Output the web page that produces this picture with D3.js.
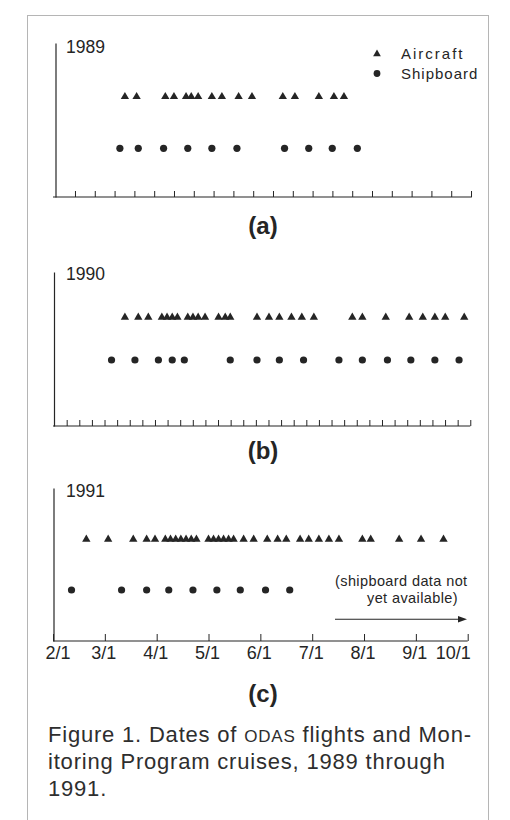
<!DOCTYPE html>
<html><head><meta charset="utf-8">
<script src="https://cdn.jsdelivr.net/npm/d3@7"></script>
<style>body{margin:0;background:#fff} svg{display:block}</style>
</head><body><svg id="c" width="510" height="820"></svg>
<script>
// ---------------- data ----------------
const years = ["1989", "1990", "1991"];
const panelLabels = ["(a)", "(b)", "(c)"];
const monthLabels = ["2/1", "3/1", "4/1", "5/1", "6/1", "7/1", "8/1", "9/1", "10/1"];
const legendLabels = ["Aircraft", "Shipboard"];

const aircraft1989 = ["3/13","3/20","4/6","4/11","4/18","4/21","4/25","5/3","5/9","5/19","5/27","6/14","6/21","7/5","7/14","7/20"];
const shipboard1989 = ["3/10","3/21","4/5","4/19","5/3","5/18","6/15","6/29","7/13","7/28"];

const aircraft1990 = ["3/13","3/21","3/27","4/4","4/7","4/10","4/13","4/19","4/22","4/25","4/29","5/7","5/11","5/14","5/30","6/6","6/12","6/19","6/25","7/2","7/25","7/31","8/14","8/28","9/5","9/12","9/18","9/29"];
const shipboard1990 = ["3/5","3/19","4/2","4/10","4/17","5/14","5/30","6/12","6/26","7/17","7/31","8/15","8/29","9/12","9/26"];

const aircraft1991 = ["2/19","3/3","3/18","3/26","3/31","4/6","4/9","4/12","4/15","4/18","4/21","4/24","5/1","5/4","5/7","5/10","5/13","5/16","5/22","5/28","6/5","6/11","6/16","6/24","6/29","7/5","7/11","7/17","7/31","8/5","8/22","9/4","9/17"];
const shipboard1991 = ["2/11","3/11","3/26","4/8","4/22","5/6","5/20","6/4","6/18"];

const noteLines = ["(shipboard data not", "yet available)"];
const captionLine1 = ["Figure 1. Dates of ", "ODAS", " flights and Mon-"];
const captionLines = ["itoring Program cruises, 1989 through", "1991."];

// ---------------- drawing ----------------
const INK = "#252525";
const FONT = "'Liberation Sans', Arial, Helvetica, sans-serif";
const svg = d3.select("#c");

// frame
svg.append("rect").attr("x", 27.5).attr("y", 15.5).attr("width", 461).attr("height", 900)
  .attr("fill", "none").attr("stroke", "#b5b5b5").attr("stroke-width", 1);

function toMonth(s, year) {
  const [m, d] = s.split("/").map(Number);
  const dim = new Date(+year, m, 0).getDate();
  return m + (d - 1) / dim;
}

const x = d3.scaleLinear().domain([2, 10]).range([53, 467.7]);

const panels = [
  { year: years[0], air: aircraft1989, ship: shipboard1989, top: 43, base: 197, yAxisX: 55.5,
    triY: 96.7, cirY: 148.3, yearY: 53, labY: 234, axisEnd: 10.08,
    ticks: d3.range(21).map(i => 2.424 + i * 0.382), tickLen: 6 },
  { year: years[1], air: aircraft1990, ship: shipboard1990, top: 272, base: 426, yAxisX: 54,
    triY: 317.3, cirY: 360, yearY: 280, labY: 459, axisEnd: 10.05,
    ticks: d3.range(33).map(i => 2.264 + i * 0.2433), tickLen: 6 },
  { year: years[2], air: aircraft1991, ship: shipboard1991, top: 488, base: 641, yAxisX: 53.5,
    triY: 539.3, cirY: 590, yearY: 497, labY: 702, axisEnd: 10,
    ticks: d3.range(2, 11), tickLen: 7 }
];

const tri = d3.symbol().type(d3.symbolTriangle).size(30);

panels.forEach((p, pi) => {
  const g = svg.append("g");
  // y axis (no ticks)
  const y = d3.scaleLinear().domain([0, 1]).range([p.base, p.top]);
  const ya = g.append("g").attr("transform", `translate(${p.yAxisX},0)`)
    .call(d3.axisLeft(y).tickValues([]).tickSizeOuter(0));
  ya.select(".domain").attr("stroke", INK).attr("stroke-width", 1.2);

  // x axis line
  g.append("line").attr("x1", x(2)).attr("x2", x(p.axisEnd))
    .attr("y1", p.base).attr("y2", p.base).attr("stroke", INK).attr("stroke-width", 1.2);

  const xa = g.append("g").attr("transform", `translate(0,${p.base})`)
    .call(d3.axisBottom(x).tickValues(p.ticks).tickSize(-p.tickLen)
      .tickFormat(pi === 2 ? (d, i) => monthLabels[i] : ""));
  xa.select(".domain").remove();
  xa.selectAll(".tick line").attr("stroke", INK).attr("stroke-width", 1);
  if (pi === 2) {
    const n = monthLabels.length;
    xa.selectAll(".tick text")
      .attr("font-family", FONT).attr("font-size", 18).attr("fill", INK)
      .attr("dy", null).attr("y", 17.5)
      .attr("text-anchor", (d, i) => i === 0 ? "start" : (i === n - 1 ? "end" : "middle"))
      .attr("x", (d, i) => i === 0 ? -8 : (i === n - 1 ? 2.5 : -1.5));
  }

  // year label
  g.append("text").attr("x", 66).attr("y", p.yearY).text(p.year)
    .attr("font-family", FONT).attr("font-size", 17.5).attr("fill", INK);

  // aircraft triangles
  g.selectAll("path.air").data(p.air).join("path").attr("class", "air")
    .attr("d", tri)
    .attr("transform", d => `translate(${x(toMonth(d, p.year))},${p.triY})`)
    .attr("fill", INK);

  // shipboard circles
  g.selectAll("circle.ship").data(p.ship).join("circle").attr("class", "ship")
    .attr("cx", d => x(toMonth(d, p.year))).attr("cy", p.cirY).attr("r", 3.6)
    .attr("fill", INK);

  // panel label
  g.append("text").attr("x", 263).attr("y", p.labY).attr("text-anchor", "middle")
    .text(panelLabels[pi]).attr("font-family", FONT).attr("font-weight", "bold")
    .attr("font-size", 24).attr("fill", INK);
});

// legend
const lg = svg.append("g");
lg.append("path").attr("d", d3.symbol().type(d3.symbolTriangle).size(26))
  .attr("transform", "translate(377,54)").attr("fill", INK);
lg.append("circle").attr("cx", 377).attr("cy", 73.5).attr("r", 3.4).attr("fill", INK);
lg.selectAll("text").data(legendLabels).join("text")
  .attr("x", 401).attr("y", (d, i) => 58.5 + i * 20)
  .attr("letter-spacing", (d, i) => i === 0 ? 2 : 1)
  .attr("font-family", FONT).attr("font-size", 15).attr("fill", INK).text(d => d);

// note in panel (c)
svg.selectAll("text.note").data(noteLines).join("text").attr("class", "note")
  .attr("x", (d, i) => i === 0 ? 335 : 367).attr("y", (d, i) => 586 + i * 16.5)
  .attr("font-family", FONT).attr("font-size", 14.5).attr("letter-spacing", 0.4)
  .attr("fill", INK).text(d => d);
svg.append("line").attr("x1", 335).attr("x2", 459).attr("y1", 619.3).attr("y2", 619.3)
  .attr("stroke", INK).attr("stroke-width", 1.1);
svg.append("path").attr("d", "M458,616 L467,619.3 L458,622.6 Z").attr("fill", INK);

// caption
const cap = svg.append("g").attr("font-family", FONT).attr("fill", "#2e2e2e")
  .attr("font-size", 22).attr("letter-spacing", 0.8);
const t1 = cap.append("text").attr("x", 48).attr("y", 742);
captionLine1.forEach((s, i) => {
  t1.append("tspan").attr("font-size", i === 1 ? 17 : 22).text(s);
});
cap.selectAll("text.cl").data(captionLines).join("text").attr("class", "cl")
  .attr("x", 48).attr("y", (d, i) => 768.5 + i * 27).text(d => d);
</script>
</body></html>
